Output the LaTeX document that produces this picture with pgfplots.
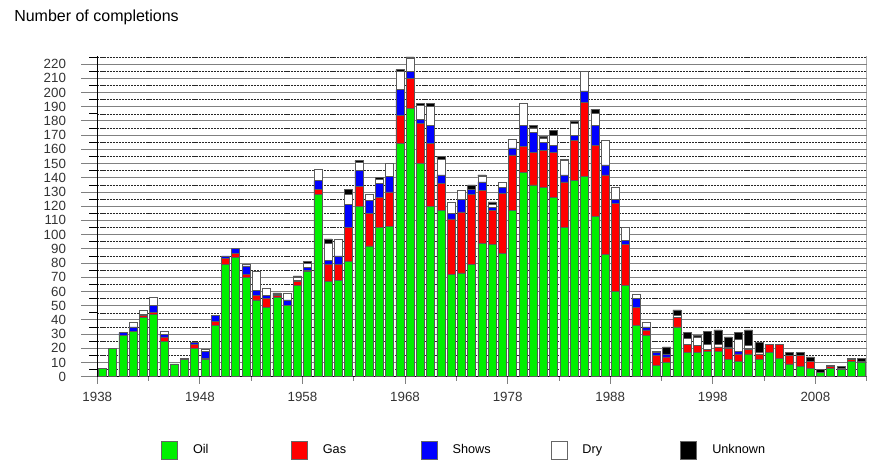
\documentclass[border=0pt]{standalone}
\usepackage{fontspec}
\setmainfont{Liberation Sans}
\usepackage{pgfplots}
\pgfplotsset{compat=1.18}
\usepackage{pgfplotstable}
\definecolor{oilc}{RGB}{0,240,0}
\definecolor{gasc}{RGB}{255,0,0}
\definecolor{showc}{RGB}{0,0,255}
\definecolor{dryc}{RGB}{255,255,255}
\definecolor{unkc}{RGB}{0,0,0}
\definecolor{edgec}{RGB}{90,90,90}

\pgfplotstableread{
year oil gas shows dry unk
1938.5 6 0 0 0 0
1939.5 20 0 0 0 0
1940.5 29 0 2 0 0
1941.5 32 0 3 3 0
1942.5 42 1 1 3 0
1943.5 44 1 5 6 0
1944.5 25 3 2 2 0
1945.5 9 0 0 0 0
1946.5 12 1 0 0 0
1947.5 20 3 1 0 0
1948.5 12 1 5 1 0
1949.5 36 3 4 0 0
1950.5 79 4 2 0 0
1951.5 84 3 3 0 0
1952.5 70 2 6 1 0
1953.5 54 3 4 13 0
1954.5 49 6 2 5 0
1955.5 56 1 1 0 1
1956.5 50 0 4 5 0
1957.5 64 3 1 2 1
1958.5 74 1 2 3 1
1959.5 128 4 6 8 0
1960.5 67 12 3 12 3
1961.5 68 11 6 12 0
1962.5 81 24 16 7 4
1963.5 120 14 11 6 1
1964.5 92 23 9 4 0
1965.5 105 21 10 3 1
1966.5 106 24 11 9 0
1967.5 164 20 18 13 1
1968.5 189 21 5 9 1
1969.5 150 28 3 10 1
1970.5 120 44 13 13 2
1971.5 117 19 6 11 2
1972.5 72 39 4 8 0
1973.5 73 43 9 6 0
1974.5 79 49 4 0 3
1975.5 94 37 6 4 1
1976.5 93 24 2 2 2
1977.5 87 42 4 4 0
1978.5 117 39 5 6 0
1979.5 144 18 15 15 0
1980.5 135 23 14 3 2
1981.5 133 26 6 3 1
1982.5 126 32 5 7 3
1983.5 105 32 5 10 1
1984.5 138 28 4 8 2
1985.5 141 52 8 14 0
1986.5 113 50 14 8 3
1987.5 86 56 7 17 0
1988.5 60 62 3 8 0
1989.5 64 29 3 9 0
1990.5 36 13 6 3 0
1991.5 29 4 2 3 0
1992.5 8 7 2 1 0
1993.5 10 4 2 0 5
1994.5 35 7 0 1 4
1995.5 17 6 0 4 4
1996.5 17 5 0 6 1
1997.5 18 1 0 4 9
1998.5 18 3 0 2 10
1999.5 12 8 1 0 7
2000.5 11 5 2 8 5
2001.5 16 3 1 2 11
2002.5 12 4 0 1 7
2003.5 17 6 0 0 0
2004.5 13 10 0 0 0
2005.5 9 6 0 0 2
2006.5 7 8 0 0 2
2007.5 6 5 0 0 3
2008.5 3 0 0 0 2
2009.5 6 1 0 0 1
2010.5 5 1 0 0 1
2011.5 11 1 0 0 1
2012.5 10 1 0 0 2
}\data

\pgfplotsset{
  mybar/.style={draw=edgec, line width=0.45pt, fill=#1,
    legend image code/.code={\draw[fill=#1, draw=black!60, line width=0.6pt] (0pt,-6.75pt) rectangle (12pt,6.75pt);}},
}

\begin{document}
\begin{tikzpicture}
\path[use as bounding box] (0,0) rectangle (663.75pt,351.75pt);
\node[anchor=west, inner sep=0pt, font=\fontsize{12}{14}\selectfont] at (10.5pt,339pt) {Number of completions};

\begin{axis}[
  at={(72.98pt,69.2pt)}, anchor=south west,
  scale only axis, width=577pt, height=240.75pt,
  xmin=1938, xmax=2013, ymin=0, ymax=225.8,
  enlargelimits=false,
  ybar stacked, bar width=0.78,
  axis x line*=bottom, axis y line*=left,
  x axis line style={-, black, line width=0.6pt},
  y axis line style={-, black, line width=0.6pt},
  xtick=\empty,
  ytick={0,10,...,220},
  minor ytick={5,15,...,225},
  tick align=outside,
  major tick length=12pt, minor tick length=6pt,
  major tick style={gray, line width=0.6pt},
  minor tick style={black, line width=0.45pt},
  ymajorgrids, yminorgrids,
  major grid style={gray, line width=0.6pt},
  minor grid style={black!85, line width=0.35pt, dash pattern=on 1.6pt off 0.7pt},
  yticklabel style={font=\fontsize{10}{12}\selectfont, text=black!80, xshift=-8pt},
  /pgf/number format/assume math mode=true,
  legend columns=5,
  legend style={draw=none, fill=none, inner sep=0pt, at={(0.0828,-0.2283)}, anchor=west,
    font=\fontsize{9.5}{11}\selectfont, nodes={inner sep=0pt},
    column sep=0pt},
]
\addplot[mybar=oilc] table[x=year,y=oil]{\data};
\addlegendentry{\makebox[84.75pt][l]{\hspace{11.25pt}Oil}}
\addplot[mybar=gasc] table[x=year,y=gas]{\data};
\addlegendentry{\makebox[84.75pt][l]{\hspace{11.25pt}Gas}}
\addplot[mybar=showc] table[x=year,y=shows]{\data};
\addlegendentry{\makebox[84.75pt][l]{\hspace{11.25pt}Shows}}
\addplot[mybar=dryc] table[x=year,y=dry]{\data};
\addlegendentry{\makebox[84.75pt][l]{\hspace{11.25pt}Dry}}
\addplot[mybar=unkc] table[x=year,y=unk]{\data};
\addlegendentry{\makebox[84.75pt][l]{\hspace{11.25pt}Unknown}}
\draw[gray, line width=0.6pt] (rel axis cs:1,0) -- (rel axis cs:1,1);
\end{axis}

\begin{axis}[
  at={(72.98pt,69.2pt)}, anchor=south west,
  scale only axis, width=577pt, height=240.75pt,
  xmin=1938, xmax=2013, ymin=0, ymax=225.8,
  axis x line*=bottom, axis y line=none,
  x axis line style={draw=none},
  ytick=\empty,
  xtick={1938,1948,...,2008},
  minor xtick={1943,1953,...,2013},
  tick align=outside,
  major tick length=5.25pt, minor tick length=3pt,
  major tick style={gray, line width=0.6pt},
  minor tick style={gray, line width=0.6pt},
  xticklabel style={font=\fontsize{10}{12}\selectfont, text=black!80, yshift=-2.7pt},
  /pgf/number format/1000 sep={},
  /pgf/number format/assume math mode=true,
]
\end{axis}
\end{tikzpicture}
\end{document}
